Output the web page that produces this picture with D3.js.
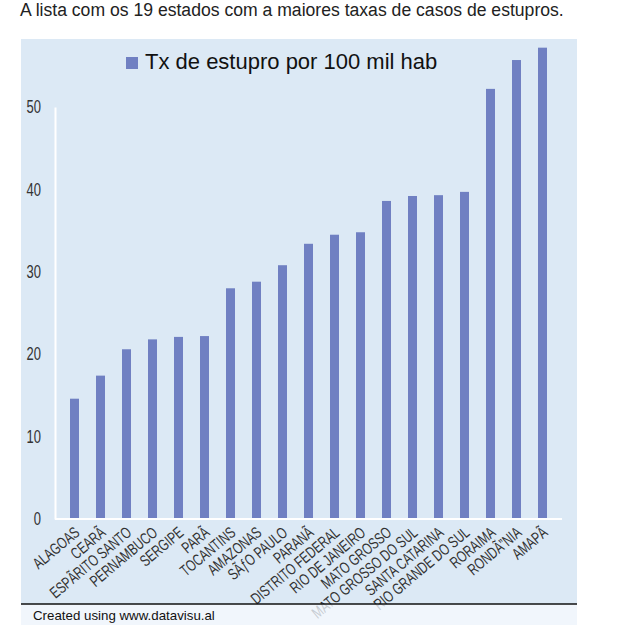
<!DOCTYPE html>
<html lang="pt-br">
<head>
  <meta charset="utf-8">
  <title>Taxa de estupro</title>
  <script src="https://d3js.org/d3.v7.min.js"></script>
  <style>
    body { margin: 0; background: #fff; }
    .eixo text { font-family: "Liberation Sans", Arial, sans-serif; }
  </style>
</head>
<body>
  <div id="chart"></div>
  <script>
    "use strict"
    // dados (rotulos mantidos como aparecem, com a codificacao quebrada)
    var estados = ["ALAGOAS", "CEARÃ", "ESPÃRITO SANTO", "PERNAMBUCO", "SERGIPE", "PARÃ",
      "TOCANTINS", "AMAZONAS", "SÃƒO PAULO", "PARANÃ", "DISTRITO FEDERAL", "RIO DE JANEIRO",
      "MATO GROSSO", "MATO GROSSO DO SUL", "SANTA CATARINA", "RIO GRANDE DO SUL",
      "RORAIMA", "RONDÃ”NIA", "AMAPÃ"];
    var taxas = [14.6, 17.4, 20.6, 21.8, 22.1, 22.2, 28.0, 28.8, 30.8, 33.4, 34.5, 34.8,
      38.6, 39.2, 39.3, 39.7, 52.2, 55.7, 57.2];
    var ticksY = [0, 10, 20, 30, 40, 50];
    var legenda = "Tx de estupro por 100 mil hab";
    var titulo = "A lista com os 19 estados com a maiores taxas de casos de estupros.";
    var rodape = "Created using www.datavisu.al";

    var larguraSVG = 631, alturaSVG = 625;
    var corBarra = "#7080c2", corFundo = "#dce9f5";
    var aperto = 0.72; // fonte condensada do original (simulada com escala horizontal)

    var svg = d3.select("#chart").append("svg")
      .attr("width", larguraSVG)
      .attr("height", alturaSVG);

    svg.append("text")
      .attr("x", 20).attr("y", 16)
      .style("font", "17.6px 'Liberation Sans', Arial, sans-serif")
      .attr("fill", "#222")
      .text(titulo);

    // painel
    svg.append("rect")
      .attr("x", 21).attr("y", 39)
      .attr("width", 556).attr("height", 565)
      .attr("fill", corFundo);

    var x = d3.scaleBand()
      .domain(estados)
      .range([61.5, 555.5])
      .paddingInner(0.654)
      .paddingOuter(0.327);
    var y = d3.scaleLinear()
      .domain([0, 50])
      .range([519, 107]);

    // barras
    svg.append("g").selectAll("rect")
      .data(taxas)
      .enter().append("rect")
        .attr("x", (d, i) => x(estados[i]))
        .attr("width", x.bandwidth())
        .attr("y", d => y(d))
        .attr("height", d => y(0) - y(d))
        .attr("fill", corBarra);

    // eixo y
    var eixoY = svg.append("g")
      .attr("class", "eixo")
      .attr("transform", "translate(55,0)")
      .call(d3.axisLeft(y).tickValues(ticksY).tickSize(0).tickPadding(14));
    eixoY.select(".domain").attr("stroke", "#fff").attr("stroke-width", 2);
    eixoY.selectAll("text")
      .attr("fill", "#333")
      .style("font-size", "18px")
      .attr("x", -14 / aperto)
      .attr("transform", "scale(" + aperto + ",1)");

    // linha de base
    svg.append("line")
      .attr("x1", 55).attr("x2", 562)
      .attr("y1", y(0)).attr("y2", y(0))
      .attr("stroke", "#fff").attr("stroke-width", 2);

    // eixo x (rotulos inclinados)
    var eixoX = svg.append("g")
      .attr("class", "eixo")
      .attr("transform", "translate(0," + (y(0) + 8) + ")")
      .call(d3.axisBottom(x).tickSize(0).tickPadding(0));
    eixoX.select(".domain").remove();
    eixoX.selectAll("text")
      .attr("fill", "#333")
      .style("font-size", "16px")
      .attr("text-anchor", "end")
      .attr("y", 0)
      .attr("dy", "0.6em")
      .attr("transform", "rotate(-40) scale(" + aperto + ",1)");

    // legenda
    svg.append("rect")
      .attr("x", 126).attr("y", 57)
      .attr("width", 12).attr("height", 12)
      .attr("fill", corBarra);
    svg.append("text")
      .attr("x", 145).attr("y", 69)
      .style("font", "22px 'Liberation Sans', Arial, sans-serif")
      .attr("fill", "#111")
      .text(legenda);

    // rodape
    svg.append("rect")
      .attr("x", 21).attr("y", 604)
      .attr("width", 556).attr("height", 21)
      .attr("fill", "#eef4fb").attr("fill-opacity", 0.8);
    svg.append("line")
      .attr("x1", 21).attr("x2", 577)
      .attr("y1", 604).attr("y2", 604)
      .attr("stroke", "#111").attr("stroke-width", 1.5);
    svg.append("text")
      .attr("x", 33).attr("y", 620)
      .style("font", "13.3px 'Liberation Sans', Arial, sans-serif")
      .attr("fill", "#111")
      .text(rodape);
  </script>
</body>
</html>
